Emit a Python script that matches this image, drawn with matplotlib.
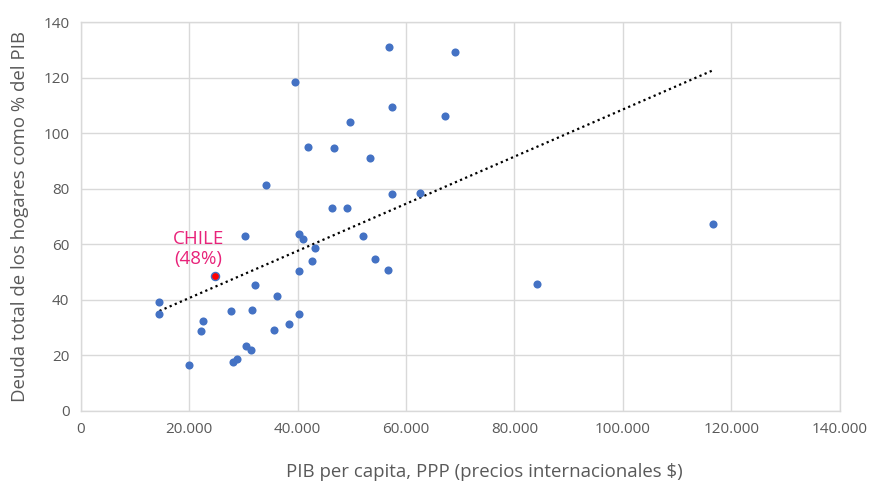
import numpy as np
import matplotlib
matplotlib.use("Agg")
import matplotlib.pyplot as plt
from matplotlib.ticker import FuncFormatter

plt.rcParams['font.family'] = ['Open Sans', 'DejaVu Sans']

# GDP per capita, PPP (international $) and household debt (% of GDP)
gdp = [14550, 14550, 20070, 22280, 22600, 27680, 28050, 28850, 30260, 30570,
       31440, 31680, 32230, 34200, 35600, 36150, 38490, 39590, 40200, 40200,
       40200, 41010, 42720, 43220, 41930, 46650, 46350, 49170, 49720, 53400,
       52060, 54270, 56600, 57400, 62490, 56780, 57460, 67280, 69000, 84220,
       116570]
debt = [39.1, 34.8, 16.5, 28.6, 32.4, 35.8, 17.5, 18.6, 62.9, 23.2,
        21.9, 36.4, 45.2, 81.2, 29.2, 41.4, 31.4, 118.3, 34.8, 50.3,
        63.5, 61.8, 54.1, 58.6, 95.1, 94.5, 72.9, 72.9, 103.9, 91.2,
        62.9, 54.6, 50.7, 77.9, 78.4, 131.1, 109.5, 106.2, 129.4, 45.8,
        67.3]
chile_gdp = [24800]
chile_debt = [48.5]
chile_label = "CHILE\n(48%)"

x_ticks = [0, 20000, 40000, 60000, 80000, 100000, 120000, 140000]
y_ticks = [0, 20, 40, 60, 80, 100, 120, 140]

fig = plt.figure(figsize=(8.78, 4.82), dpi=100)
ax = fig.add_axes([0.0917, 0.148, 0.865, 0.806])

blue = "#4472C4"
grey_txt = "#595959"
grid_c = "#D9D9D9"

ax.scatter(gdp, debt, s=34, color=blue, zorder=3, linewidths=0)
ax.scatter(chile_gdp, chile_debt, s=34, color="#FF0000", edgecolors=blue,
           linewidths=1.0, zorder=4)

# linear trend line over all countries
allx = np.array(gdp + chile_gdp, dtype=float)
ally = np.array(debt + chile_debt, dtype=float)
m, b = np.polyfit(allx, ally, 1)
xs = np.array([allx.min(), allx.max()])
ax.plot(xs, m * xs + b, color="black", linestyle=(0, (1, 1.5)), linewidth=1.6,
        zorder=2)

ax.annotate(chile_label, xy=(chile_gdp[0], chile_debt[0]), xytext=(-12, 6),
            textcoords="offset points", ha="center", va="bottom",
            color="#E8237A", fontsize=13.5, linespacing=1.1)

ax.set_xlim(0, 140000)
ax.set_ylim(0, 140)
ax.set_xticks(x_ticks)
ax.set_yticks(y_ticks)
ax.xaxis.set_major_formatter(FuncFormatter(lambda v, p: f"{int(v):,}".replace(",", ".")))
ax.grid(True, color=grid_c, linewidth=1)
ax.set_axisbelow(True)
for s in ax.spines.values():
    s.set_color(grid_c)
    s.set_linewidth(1)
ax.tick_params(length=0, colors=grey_txt, labelsize=11, pad=8)

ax.set_xlabel("PIB per capita, PPP (precios internacionales $)", fontsize=13.4,
              color=grey_txt, va="baseline")
ax.xaxis.set_label_coords(0.532, -0.172)
ax.set_ylabel("Deuda total de los hogares como % del PIB", fontsize=13.4,
              color=grey_txt, labelpad=10)

fig.savefig("out.png", dpi=100)
